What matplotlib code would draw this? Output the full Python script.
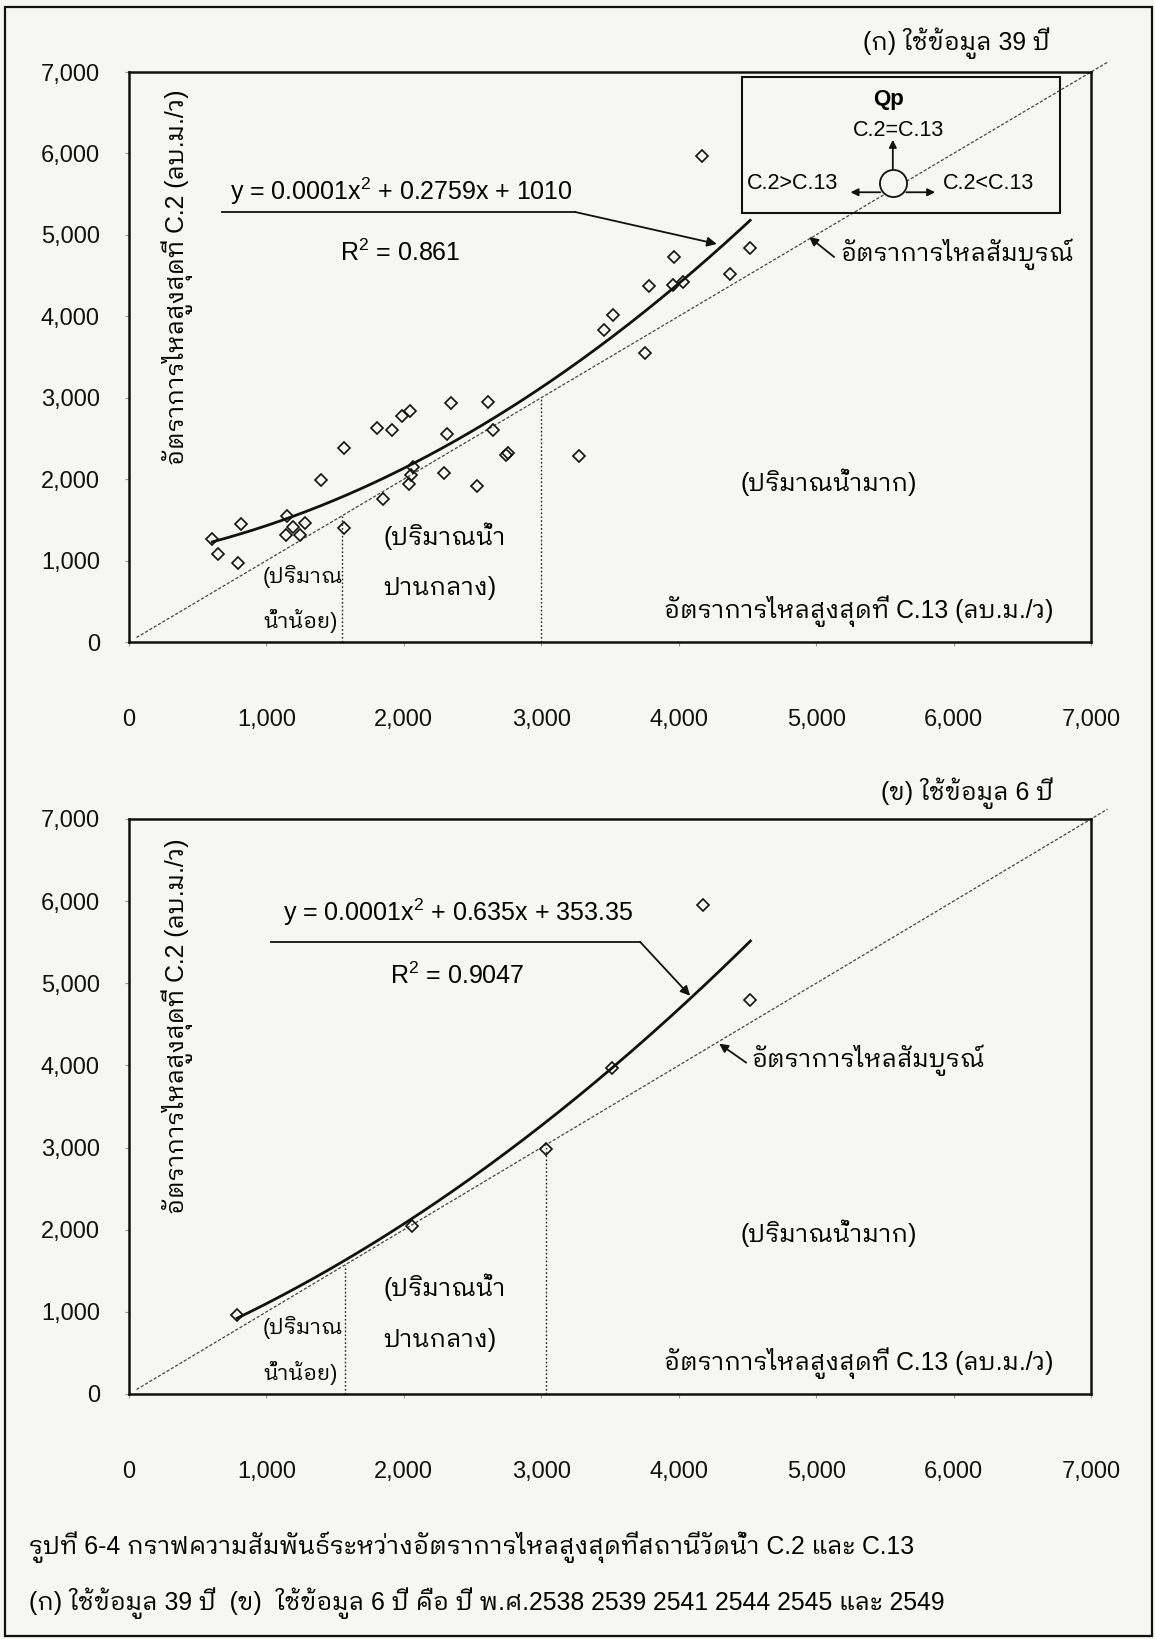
import matplotlib
matplotlib.use("Agg")
import matplotlib.pyplot as plt
from matplotlib.patches import Rectangle
from matplotlib import font_manager as fm
from matplotlib.ft2font import FT2Font
import numpy as np

# Peak discharge (m³/s), 39-year record: station C.13 (x) against C.2 (y)
c13_all = [606, 650, 791, 815, 1148, 1140, 1191, 1245, 1281, 1397,
           1565, 1565, 1846, 1807, 1912, 1985, 2045, 2064, 2050, 2040,
           2295, 2312, 2344, 2530, 2610, 2651, 2761, 2740, 3277, 3755,
           3457, 3520, 3787, 3957, 4034, 3967, 4374, 4520, 4168]
c2_all = [1261, 1081, 974, 1449, 1547, 1310, 1416, 1318, 1457, 1989,
          1404, 2378, 1752, 2632, 2603, 2775, 2841, 2145, 2050, 1940,
          2072, 2550, 2939, 1916, 2951, 2603, 2317, 2300, 2288, 3545,
          3831, 4016, 4372, 4384, 4425, 4732, 4519, 4842, 5968]

# Six selected years
c13_six = [787, 2062, 3037, 3517, 4174, 4522]
c2_six = [960, 2041, 2985, 3969, 5951, 4796]

# Quadratic trend coefficients (a, b, c) and goodness of fit
fit_all = [0.000143, 0.2759, 1010]
r2_all = 0.861
fit_six = [0.000112, 0.635, 353.35]
r2_six = 0.9047

# Low / medium / high flow boundaries on the C.13 axis
breaks_all = [1550, 3000]
breaks_six = [1575, 3037]

axis_ticks = [0, 1000, 2000, 3000, 4000, 5000, 6000, 7000]

titles = ["(ก) ใช้ข้อมูล 39 ปี", "(ข) ใช้ข้อมูล 6 ปี"]
ylabel = "อัตราการไหลสูงสุดที่ C.2 (ลบ.ม./ว)"
xlabel = "อัตราการไหลสูงสุดที่ C.13 (ลบ.ม./ว)"
equal_label = "อัตราการไหลสัมบูรณ์"
caption = ["รูปที่ 6-4 กราฟความสัมพันธ์ระหว่างอัตราการไหลสูงสุดที่สถานีวัดน้ำ C.2 และ C.13",
           "(ก) ใช้ข้อมูล 39 ปี  (ข)  ใช้ข้อมูล 6 ปี คือ ปี พ.ศ.2538 2539 2541 2544 2545 และ 2549"]


def find_thai_family():
    found = []
    for entry in fm.fontManager.ttflist:
        try:
            font = FT2Font(entry.fname)
        except Exception:
            continue
        try:
            if font.get_char_index(0x0E01) and font.get_char_index(0x0E49):
                found.append(entry.name)
        except Exception:
            continue
    if not found:
        return None
    found.sort(key=lambda n: (("Looped" not in n), ("Thai" not in n), ("Sans" not in n), n))
    return found[0]


thai = find_thai_family()
families = ["Liberation Sans"] + ([thai] if thai else []) + ["DejaVu Sans"]
plt.rcParams["font.family"] = families
plt.rcParams["mathtext.fontset"] = "custom"
plt.rcParams["mathtext.rm"] = "Liberation Sans"

BG = "#f6f6f4"
W, H = 1155, 1639
THAI_FS = 17.8
fig = plt.figure(figsize=(W / 100, H / 100), dpi=100, facecolor=BG)


def px_axes(left, top, right, bottom):
    return fig.add_axes([left / W, 1 - bottom / H, (right - left) / W, (bottom - top) / H])


def eq_text(coef):
    a, b, c = coef
    return f"y = {a:.4f}x$^{{\\mathregular{{2}}}}$ + {b:g}x + {c:g}"


def r2_text(r2):
    return f"R$^{{\\mathregular{{2}}}}$ = {r2:g}"


def draw_panel(ax, xs, ys, coef, r2, breaks, eq_pos, underline, arrow_tip, r2_pos,
               eq_arrow_tail, eq_arrow_tip, eq_label_pos):
    ax.set_facecolor(BG)
    ax.set_xlim(0, 7000)
    ax.set_ylim(0, 7000)
    ax.set_xticks(axis_ticks)
    ax.set_yticks(axis_ticks)
    ax.set_xticklabels([f"{t:,}" for t in axis_ticks])
    ax.set_yticklabels([f"{t:,}" for t in axis_ticks])
    ax.tick_params(axis="both", direction="out", length=3, width=0.8, color="#999999",
                   labelsize=17, labelcolor="#111111")
    ax.tick_params(axis="y", pad=18)
    ax.tick_params(axis="x", pad=45)
    for s in ax.spines.values():
        s.set_linewidth(1.8)
        s.set_color("#111111")

    # line of equal discharge
    ax.plot([55, 7120], [55, 7120], color="#444444", lw=0.9, ls=(0, (2.5, 1.5)),
            clip_on=False, zorder=2)

    # flow-class boundaries
    for b in breaks:
        ax.plot([b, b], [0, b], color="#222222", lw=1.0, ls=(0, (1.2, 1.6)), zorder=2)

    # quadratic trend over the data range
    xx = np.linspace(min(xs), max(xs), 200)
    a, b, c = coef
    ax.plot(xx, a * xx ** 2 + b * xx + c, color="#111111", lw=2.0, zorder=3)

    ax.plot(xs, ys, ls="none", marker="D", ms=6, mfc="none", mec="#111111", mew=1.2, zorder=4)

    ax.text(eq_pos[0], eq_pos[1], eq_text(coef), ha="center", va="center", fontsize=18)
    ax.text(r2_pos[0], r2_pos[1], r2_text(r2), ha="center", va="center", fontsize=18)
    ax.plot(underline[0], underline[1], color="#111111", lw=1.3, zorder=3)
    ax.annotate("", xy=arrow_tip, xytext=(underline[0][-1], underline[1][-1]),
                arrowprops=dict(arrowstyle="-|>", color="#111111", lw=1.3,
                                mutation_scale=14, shrinkA=0, shrinkB=0))

    ax.annotate("", xy=eq_arrow_tip, xytext=eq_arrow_tail,
                arrowprops=dict(arrowstyle="-|>", color="#111111", lw=1.3,
                                mutation_scale=13, shrinkA=0, shrinkB=0))
    ax.text(eq_label_pos[0], eq_label_pos[1], equal_label, ha="left", va="center", fontsize=THAI_FS)

    ax.text(5094, 1960, "(ปริมาณน้ำมาก)", ha="center", va="center", fontsize=THAI_FS)
    ax.text(1849, 1300, "(ปริมาณน้ำ", ha="left", va="center", fontsize=THAI_FS)
    ax.text(1849, 660, "ปานกลาง)", ha="left", va="center", fontsize=THAI_FS)
    ax.text(975, 810, "(ปริมาณ", ha="left", va="center", fontsize=15.5)
    ax.text(975, 255, "น้ำน้อย)", ha="left", va="center", fontsize=15.5)
    ax.text(6725, 380, xlabel, ha="right", va="center", fontsize=THAI_FS)
    ax.text(0.05, 0.64, ylabel, rotation=90, ha="center", va="center", fontsize=THAI_FS,
            transform=ax.transAxes)


# upper panel: 39-year record
ax1 = px_axes(129, 72, 1091, 642)
draw_panel(ax1, c13_all, c2_all, fit_all, r2_all, breaks_all,
           eq_pos=(1980, 5540), underline=([677, 3246], [5281, 5281]),
           arrow_tip=(4277, 4888), r2_pos=(1972, 4777),
           eq_arrow_tail=(5131, 4728), eq_arrow_tip=(4949, 4974),
           eq_label_pos=(5175, 4760))

# legend of flow direction
ax1.add_patch(Rectangle((0.637, 0.753), 0.331, 0.238, transform=ax1.transAxes,
                        fill=False, lw=1.5, ec="#111111", zorder=5))
ax1.text(0.789, 0.951, "Qp", transform=ax1.transAxes, ha="center", va="center",
         fontsize=16, fontweight="bold")
ax1.text(0.800, 0.898, "C.2=C.13", transform=ax1.transAxes, ha="center", va="center", fontsize=15.5)
ax1.text(0.690, 0.805, "C.2>C.13", transform=ax1.transAxes, ha="center", va="center", fontsize=15.5)
ax1.text(0.893, 0.805, "C.2<C.13", transform=ax1.transAxes, ha="center", va="center", fontsize=15.5)
ax1.plot([0.794], [0.805], transform=ax1.transAxes, marker="o", ms=19.5, mfc=BG,
         mec="#111111", mew=1.3, zorder=6, clip_on=False)
arrow_kw = dict(arrowstyle="-|>", color="#111111", lw=1.3, mutation_scale=11, shrinkA=0, shrinkB=0)
ax1.annotate("", xy=(0.794, 0.881), xytext=(0.794, 0.829), xycoords="axes fraction",
             textcoords="axes fraction", arrowprops=arrow_kw, zorder=6)
ax1.annotate("", xy=(0.750, 0.789), xytext=(0.781, 0.789), xycoords="axes fraction",
             textcoords="axes fraction", arrowprops=arrow_kw, zorder=6)
ax1.annotate("", xy=(0.838, 0.789), xytext=(0.808, 0.789), xycoords="axes fraction",
             textcoords="axes fraction", arrowprops=arrow_kw, zorder=6)

# lower panel: six selected years
ax2 = px_axes(129, 819, 1091, 1394)
draw_panel(ax2, c13_six, c2_six, fit_six, r2_six, breaks_six,
           eq_pos=(2394, 5860), underline=([1033, 3719], [5504, 5504]),
           arrow_tip=(4083, 4848), r2_pos=(2387, 5091),
           eq_arrow_tail=(4491, 4034), eq_arrow_tip=(4294, 4265),
           eq_label_pos=(4530, 4058))

fig.text(1050 / W, 1 - 43 / H, titles[0], ha="right", va="center", fontsize=THAI_FS)
fig.text(1053 / W, 1 - 793 / H, titles[1], ha="right", va="center", fontsize=THAI_FS)

fig.text(29 / W, 1 - 1547 / H, caption[0], ha="left", va="center", fontsize=THAI_FS)
fig.text(29 / W, 1 - 1603 / H, caption[1], ha="left", va="center", fontsize=THAI_FS)

# page border
fig.add_artist(Rectangle((5 / W, 1 - 1636 / H), 1147 / W, 1629 / H, transform=fig.transFigure,
                         fill=False, lw=1.6, ec="#111111"))

fig.savefig("out.png", dpi=100, facecolor=BG)
